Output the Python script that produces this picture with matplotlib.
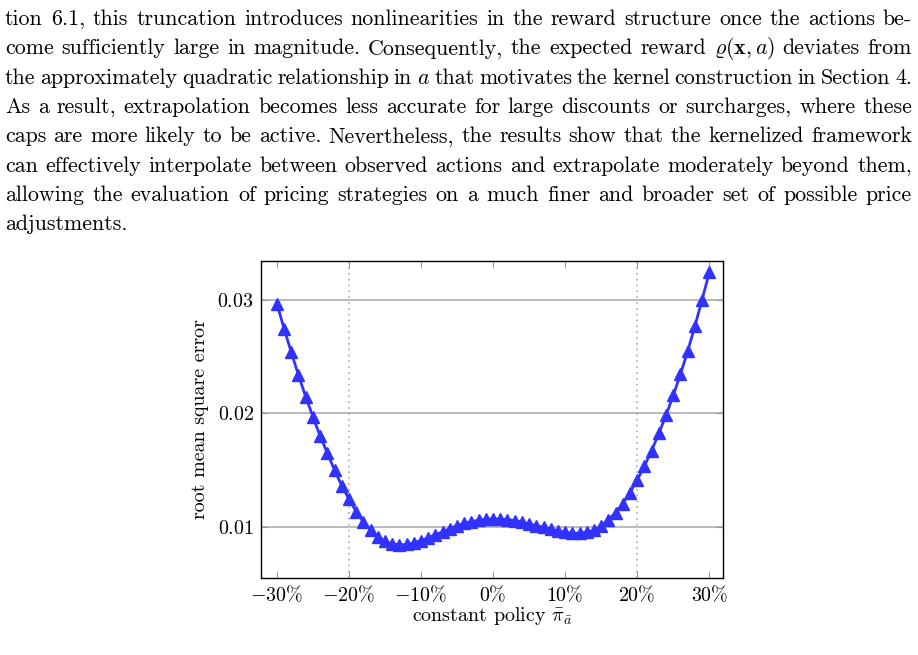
import numpy as np
import matplotlib
matplotlib.use("Agg")
import matplotlib.pyplot as plt

# constant policy (price adjustment in %) and RMSE values
policy = list(range(-30, 31))
rmse = [0.02965, 0.02745, 0.02537, 0.02335, 0.02145, 0.0197, 0.0180, 0.01649,
        0.0150, 0.01362, 0.01245, 0.01135, 0.01044, 0.00974, 0.00915, 0.00874,
        0.0085, 0.00842, 0.00845, 0.0086, 0.0088, 0.00904, 0.0093, 0.00956,
        0.00985, 0.01012, 0.01032, 0.01047, 0.01059, 0.01067, 0.0107, 0.0107,
        0.01064, 0.01056, 0.01044, 0.01026, 0.01012, 0.00997, 0.0098, 0.00965,
        0.00953, 0.00944, 0.00944, 0.00953, 0.0097, 0.01009, 0.01062, 0.01126,
        0.01205, 0.01302, 0.01413, 0.01536, 0.01671, 0.01823, 0.01984, 0.02157,
        0.02344, 0.02546, 0.02766, 0.0300, 0.0324]

xticks = [-30, -20, -10, 0, 10, 20, 30]
xticklabels = [r'$-30\%$', r'$-20\%$', r'$-10\%$', r'$0\%$', r'$10\%$', r'$20\%$', r'$30\%$']
yticks = [0.01, 0.02, 0.03]
yticklabels = [r'$0.01$', r'$0.02$', r'$0.03$']

paragraph = [
    "tion 6.1, this truncation introduces nonlinearities in the reward structure once the actions be-",
    r"come sufficiently large in magnitude. Consequently, the expected reward $\varrho(\mathbf{x},a)$ deviates from",
    r"the approximately quadratic relationship in $a$ that motivates the kernel construction in Section 4.",
    "As a result, extrapolation becomes less accurate for large discounts or surcharges, where these",
    "caps are more likely to be active. Nevertheless, the results show that the kernelized framework",
    "can effectively interpolate between observed actions and extrapolate moderately beyond them,",
    "allowing the evaluation of pricing strategies on a much finer and broader set of possible price",
    "adjustments.",
]

plt.rcParams['font.family'] = 'cmr10'
plt.rcParams['mathtext.fontset'] = 'cm'
plt.rcParams['axes.unicode_minus'] = False

W, H = 918, 655
fig = plt.figure(figsize=(W / 100, H / 100), dpi=100)
ax = fig.add_axes([261 / W, 77 / H, 462 / W, 317 / H])

ax.plot(policy, rmse, color='#3232ff', lw=2, marker='^', ms=8, zorder=3)

ax.set_xlim(-32.2, 31.9)
ax.set_ylim(0.0055, 0.0334)
ax.set_xticks(xticks)
ax.set_xticklabels(xticklabels, fontsize=14.4)
ax.set_yticks(yticks)
ax.set_yticklabels(yticklabels, fontsize=14.4)
ax.tick_params(direction='in', length=5, color='#999999', top=True, bottom=True,
               left=True, right=True, pad=5)

for y in yticks:
    ax.axhline(y, color='#b4b4b4', lw=1.3, zorder=1)
for x in (-20, 20):
    ax.axvline(x, color='#aaaaaa', lw=1.2, ls=(0, (1, 2.5)), zorder=1)

for s in ax.spines.values():
    s.set_linewidth(1.0)

ax.set_xlabel(r'constant policy $\bar{\pi}_{\bar{a}}$', fontsize=14.4, labelpad=0)
ax.set_ylabel('root mean square error', fontsize=14.4, labelpad=6)

# justified paragraph above the chart
fig.canvas.draw()
renderer = fig.canvas.get_renderer()
left, right = 5, 912
for i, line in enumerate(paragraph):
    base = H - (25 + 29.3 * i)
    words = line.split(' ')
    objs = [fig.text(0, base / H, w, fontsize=15.8, va='baseline', ha='left') for w in words]
    widths = [o.get_window_extent(renderer).width for o in objs]
    if i == len(paragraph) - 1:
        gap = 7
    else:
        gap = (right - left - sum(widths)) / (len(words) - 1)
    x = left
    for o, w in zip(objs, widths):
        o.set_x(x / W)
        x += w + gap

fig.savefig('out.png', dpi=100)
